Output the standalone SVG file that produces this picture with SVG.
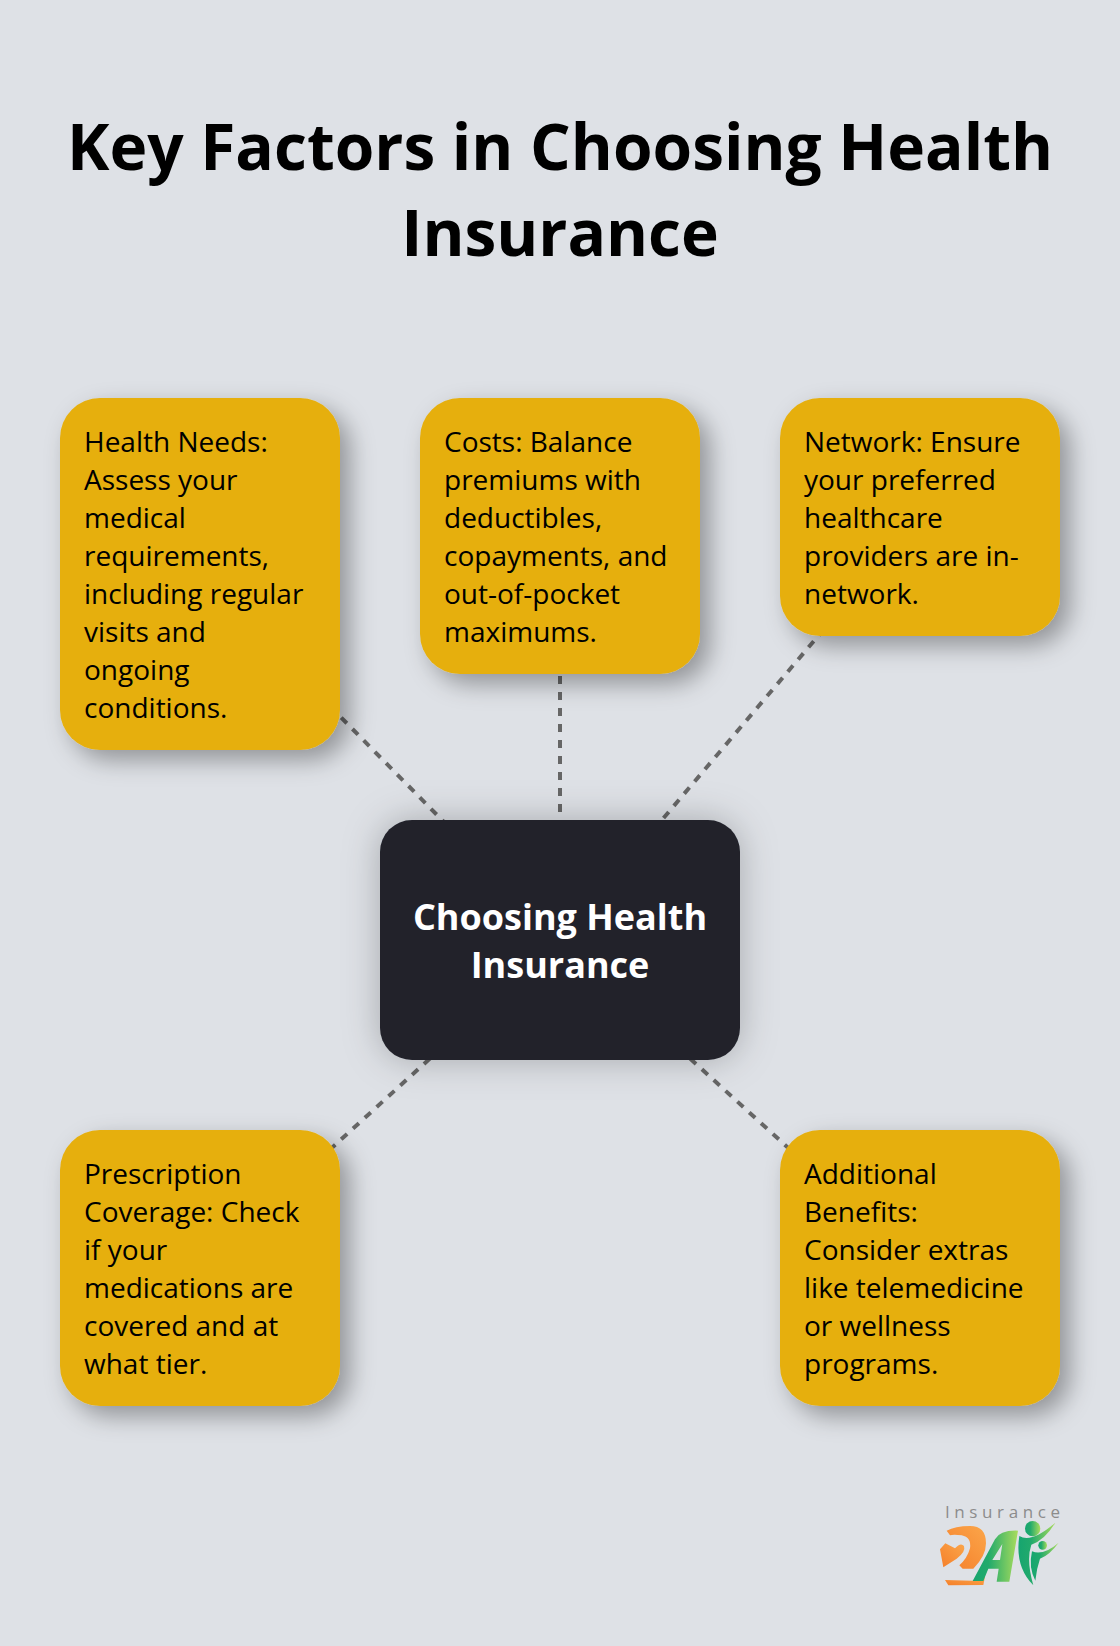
<svg xmlns="http://www.w3.org/2000/svg" width="1120" height="1646" viewBox="0 0 1120 1646">
<style>
text{font-family:"Open Sans","Noto Sans","Liberation Sans",sans-serif}
.title{font-size:64px;font-weight:700;fill:#000;text-anchor:middle}
.card{fill:#e6af0e;filter:url(#cs)}
.t{font-size:28px;fill:#000}
.ct{font-size:36px;font-weight:700;fill:#fff;text-anchor:middle}
.c{stroke:#666;stroke-width:4;stroke-dasharray:8 8;fill:none}
</style>
<defs>
<filter id="cs" x="-25%" y="-25%" width="160%" height="160%"><feDropShadow dx="10" dy="10" stdDeviation="12" flood-color="#000" flood-opacity="0.34"/></filter>
<filter id="ds" x="-30%" y="-40%" width="160%" height="180%"><feDropShadow dx="0" dy="0" stdDeviation="18" flood-color="#000" flood-opacity="0.25"/></filter>
<linearGradient id="og" x1="0" y1="1" x2="1" y2="0"><stop offset="0" stop-color="#f57f2a"/><stop offset="1" stop-color="#fba64a"/></linearGradient>
<linearGradient id="gg" x1="0" y1="0" x2="1" y2="0"><stop offset="0" stop-color="#16a56f"/><stop offset="0.35" stop-color="#22aa6c"/><stop offset="1" stop-color="#a9dc5c"/></linearGradient>
</defs>
<rect width="1120" height="1646" fill="#dee1e6"/>
<text class="title" x="560" y="170">Key Factors in Choosing Health</text>
<text class="title" x="560" y="256">Insurance</text>
<g id="connectors">
<line class="c" x1="560" y1="940" x2="200" y2="574"/>
<line class="c" x1="560" y1="940" x2="560" y2="536"/>
<line class="c" x1="560" y1="940" x2="920" y2="516"/>
<line class="c" x1="560" y1="940" x2="200" y2="1268"/>
<line class="c" x1="560" y1="940" x2="920" y2="1268"/>
</g>
<g id="n-health"><rect class="card" x="60" y="398" width="280" height="352" rx="40"/>
<text class="t" x="84" y="452">Health Needs:</text><text class="t" x="84" y="490">Assess your</text><text class="t" x="84" y="528">medical</text><text class="t" x="84" y="566">requirements,</text><text class="t" x="84" y="604">including regular</text><text class="t" x="84" y="642">visits and</text><text class="t" x="84" y="680">ongoing</text><text class="t" x="84" y="718">conditions.</text></g>
<g id="n-costs"><rect class="card" x="420" y="398" width="280" height="276" rx="40"/>
<text class="t" x="444" y="452">Costs: Balance</text><text class="t" x="444" y="490">premiums with</text><text class="t" x="444" y="528">deductibles,</text><text class="t" x="444" y="566">copayments, and</text><text class="t" x="444" y="604">out-of-pocket</text><text class="t" x="444" y="642">maximums.</text></g>
<g id="n-network"><rect class="card" x="780" y="398" width="280" height="238" rx="40"/>
<text class="t" x="804" y="452">Network: Ensure</text><text class="t" x="804" y="490">your preferred</text><text class="t" x="804" y="528">healthcare</text><text class="t" x="804" y="566">providers are in-</text><text class="t" x="804" y="604">network.</text></g>
<g id="n-prescription"><rect class="card" x="60" y="1130" width="280" height="276" rx="40"/>
<text class="t" x="84" y="1184">Prescription</text><text class="t" x="84" y="1222">Coverage: Check</text><text class="t" x="84" y="1260">if your</text><text class="t" x="84" y="1298">medications are</text><text class="t" x="84" y="1336">covered and at</text><text class="t" x="84" y="1374">what tier.</text></g>
<g id="n-benefits"><rect class="card" x="780" y="1130" width="280" height="276" rx="40"/>
<text class="t" x="804" y="1184">Additional</text><text class="t" x="804" y="1222">Benefits:</text><text class="t" x="804" y="1260">Consider extras</text><text class="t" x="804" y="1298">like telemedicine</text><text class="t" x="804" y="1336">or wellness</text><text class="t" x="804" y="1374">programs.</text></g>
<g id="n-center"><rect x="380" y="820" width="360" height="240" rx="32" fill="#22232c" filter="url(#ds)"/>
<text class="ct" x="560" y="930">Choosing Health</text><text class="ct" x="560" y="978">Insurance</text></g>
<g id="logo">
<text x="945" y="1518" font-size="17" letter-spacing="4.6" fill="#8c8c8c">Insurance</text>
<g transform="translate(920 1480) scale(0.3333)">
<path fill="url(#og)" d="M80 152Q105 138 150 138Q198 138 198 190Q198 228 160 266L128 266L118 256Q142 235 150 205Q155 172 125 166Q100 163 90 166Z"/>
<path fill="url(#og)" d="M60 208L76 190L105 205Q122 186 132 198Q138 215 110 236L70 262Z"/>
<path fill="url(#og)" d="M75 300L158 302L195 290L190 315L85 316Z"/>
<path fill="url(#gg)" fill-rule="evenodd" d="M158 303L225 178Q240 150 294 152L268 305L230 305L236 266L205 266L190 303ZM217 240L240 240L247 192Z"/>
<circle cx="338" cy="146" r="23" fill="url(#gg)"/>
<path fill="url(#gg)" d="M298 168Q335 190 406 128Q375 180 334 194Q318 240 340 316Q284 260 298 168Z"/>
<circle cx="368" cy="196" r="13" fill="url(#gg)"/>
<path fill="url(#gg)" d="M336 214Q370 228 416 188Q388 226 360 236Q350 265 346 302Q325 262 336 214Z"/>
</g></g>
</svg>
